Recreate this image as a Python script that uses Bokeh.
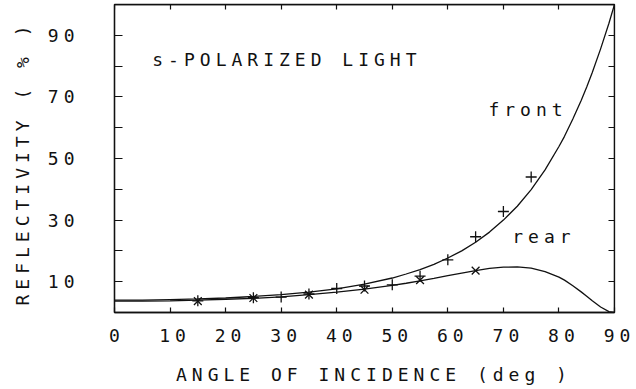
from bokeh.plotting import figure
from bokeh.models import (LinearAxis, FixedTicker, Range1d, CustomJSTickFormatter,
                          InlineStyleSheet, Title)
from bokeh.core.properties import value
from bokeh.embed import file_html
from bokeh.resources import INLINE

FONT = "DejaVu Sans Mono"
INK = "#111111"
FS = "18px"

# ---- data ----
# calculated curves (reflectivity in %, vs angle of incidence in deg)
curve_angle = [0, 5, 10, 15, 20, 25, 30, 35, 40, 45, 50, 52.5, 55, 57.5, 60,
               62.5, 65, 67.5, 70, 72.5, 75, 77.5, 80, 81, 82.5, 84, 85, 86,
               87.5, 89, 90]
front_curve = [4.0, 4.0, 4.2, 4.4, 4.7, 5.2, 5.8, 6.6, 7.7, 9.2, 11.2, 12.5,
               13.9, 15.6, 17.7, 20.0, 22.8, 26.1, 30.0, 34.5, 39.9, 46.3,
               53.9, 57.2, 62.8, 68.8, 73.2, 77.9, 85.6, 93.9, 100.0]
rear_curve = [3.7, 3.7, 3.8, 4.0, 4.3, 4.6, 5.1, 5.8, 6.6, 7.6, 8.8, 9.5,
              10.3, 11.1, 12.0, 12.8, 13.6, 14.3, 14.7, 14.8, 14.4, 13.3,
              11.5, 10.5, 8.7, 6.7, 5.3, 3.8, 1.8, 0.3, 0.0]

# measured points
front_meas_angle = [15, 25, 30, 35, 40, 45, 50, 55, 60, 65, 70, 75]
front_meas_value = [3.8, 4.8, 5.0, 6.0, 7.8, 8.6, 9.0, 11.8, 17.1, 24.6, 32.8, 44.0]
rear_meas_angle = [15, 25, 35, 45, 55, 65]
rear_meas_value = [3.7, 4.7, 5.8, 7.4, 10.5, 13.6]

x_ticks = [0, 10, 20, 30, 40, 50, 60, 70, 80, 90]
y_ticks = [10, 30, 50, 70, 90]
y_minor = [20, 40, 60, 80]
y_all = [10, 20, 30, 40, 50, 60, 70, 80, 90]

p = figure(width=636, height=389, x_range=Range1d(0, 90), y_range=Range1d(0, 100),
           output_backend="svg", toolbar_location=None,
           min_border_left=114, min_border_right=22, min_border_top=4,
           min_border_bottom=77)
# plotter-style wide letter spacing
p.stylesheets = [InlineStyleSheet(css=":host { letter-spacing: 5px; }")]
p.grid.visible = False
p.background_fill_color = "white"
p.border_fill_color = "white"
p.outline_line_color = INK
p.outline_line_width = 1.3


def style_axis(ax, tick_in):
    ax.axis_line_color = INK
    ax.axis_line_width = 1.3
    ax.major_tick_line_color = INK
    ax.major_tick_line_width = 1.2
    ax.minor_tick_line_color = INK
    ax.minor_tick_line_width = 1.2
    ax.major_tick_in = tick_in
    ax.major_tick_out = 0
    ax.minor_tick_in = tick_in
    ax.minor_tick_out = 0
    ax.major_label_text_font = FONT
    ax.major_label_text_font_size = FS
    ax.major_label_text_color = INK


def spacer_axis(gap, tick):
    # an invisible axis used only as a fixed gap between tick labels and a title
    return LinearAxis(ticker=FixedTicker(ticks=[tick]),
                      formatter=CustomJSTickFormatter(code="return ''"),
                      axis_line_color=None, major_tick_line_color=None,
                      minor_tick_line_color=None, major_tick_in=0,
                      major_tick_out=gap, minor_tick_in=0, minor_tick_out=0,
                      major_label_standoff=0, major_label_text_font_size="1px")


xa = p.xaxis[0]
xa.ticker = FixedTicker(ticks=x_ticks)
style_axis(xa, 5)
xa.major_label_standoff = 16

ya = p.yaxis[0]
ya.ticker = FixedTicker(ticks=y_ticks, minor_ticks=y_minor)
style_axis(ya, 8)
ya.major_label_standoff = 45

top = LinearAxis(ticker=FixedTicker(ticks=x_ticks), fixed_location=100,
                 formatter=CustomJSTickFormatter(code="return ''"))
style_axis(top, 5)
top.major_label_standoff = 0
top.major_label_text_font_size = "1px"
p.add_layout(top, "above")

right = LinearAxis(ticker=FixedTicker(ticks=y_all), fixed_location=90,
                   formatter=CustomJSTickFormatter(code="return ''"))
style_axis(right, 6)
right.major_label_standoff = 0
right.major_label_text_font_size = "1px"
p.add_layout(right, "right")

# curves
p.line(curve_angle, front_curve, line_color=INK, line_width=1.3)
p.line(curve_angle, rear_curve, line_color=INK, line_width=1.3)

# measured points
p.scatter(front_meas_angle, front_meas_value, marker="cross", size=11,
          line_color=INK, line_width=1.3)
p.scatter(rear_meas_angle, rear_meas_value, marker="x", size=11,
          line_color=INK, line_width=1.3)

# annotations (start-anchored so the letter spacing runs to the right)
txt = dict(text_font=value(FONT), text_font_size=FS, text_color=INK,
           text_align="left", text_baseline="middle")
p.text(x=[6.8], y=[82], text=["s-POLARIZED LIGHT"], **txt)
p.text(x=[67.3], y=[66], text=["front"], **txt)
p.text(x=[71.6], y=[24.7], text=["rear"], **txt)

# axis titles
ttl = dict(text_font=FONT, text_font_size=FS, text_font_style="normal",
           text_color=INK, align="left")
p.add_layout(spacer_axis(17, 45), "below")
p.add_layout(Title(text="ANGLE OF INCIDENCE (deg )", offset=61.5, standoff=0,
                   **ttl), "below")
p.add_layout(spacer_axis(6, 50), "left")
p.add_layout(Title(text="REFLECTIVITY ( % )", offset=7, standoff=12, **ttl),
             "left")

open("out.html", "w").write(file_html(p, INLINE))
